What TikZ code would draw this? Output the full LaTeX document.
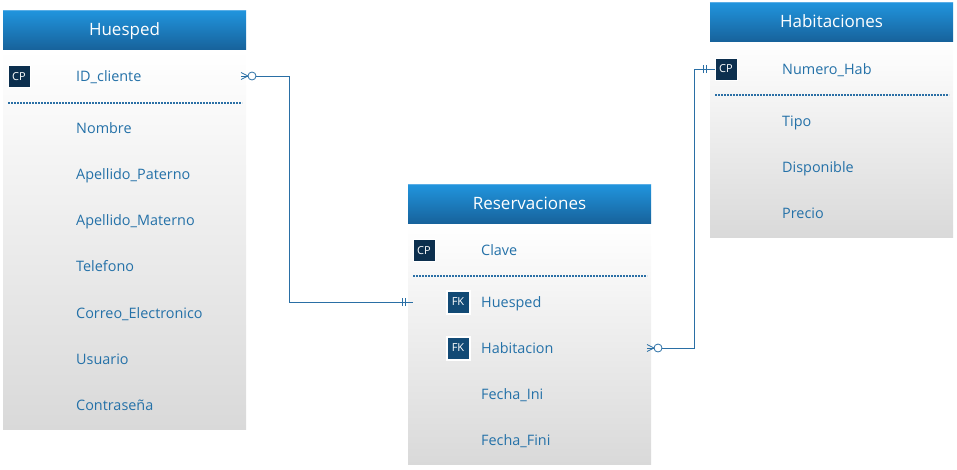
\documentclass[tikz,border=0pt]{standalone}
\usepackage{fontspec}
\setmainfont{Open Sans}
\definecolor{hdtop}{HTML}{2195DE}
\definecolor{hdbot}{HTML}{17629B}
\definecolor{hdedge}{HTML}{5AAEE6}
\definecolor{bdtop}{HTML}{FFFFFF}
\definecolor{bdbot}{HTML}{D9D9D9}
\definecolor{ink}{HTML}{2471A8}
\definecolor{wire}{HTML}{2A6FA5}
\definecolor{cpc}{HTML}{0C2F4E}
\definecolor{fkc}{HTML}{124A75}
\tikzset{
 x=1pt,y=-1pt,
 tablehead/.style={rectangle,minimum width=243pt,minimum height=39.6pt,inner sep=0pt,top color=hdtop,bottom color=hdbot,text=white,text height=12pt,text depth=0pt,font=\fontsize{17}{19}\selectfont},
 tablebody/.style={rectangle,minimum width=243pt,inner sep=0pt,top color=bdtop,bottom color=bdbot},
 field/.style={anchor=base west,inner sep=0pt,text=ink,font=\fontsize{14.4}{17}\selectfont},
 cpkey/.style={rectangle,fill=cpc,draw=white,line width=1pt,minimum size=22pt,inner sep=0pt,text=white,font=\fontsize{11}{13}\selectfont},
 fkkey/.style={cpkey,fill=fkc,line width=2pt,minimum size=23pt},
 sep/.style={draw=wire,dash pattern=on 2pt off 1pt,line width=1.1pt},
 wireline/.style={draw=wire,line width=1pt},
 zeropt/.style={circle,draw=wire,fill=white,line width=0.8pt,minimum size=8pt,inner sep=0pt},
}
\begin{document}
\begin{tikzpicture}
\useasboundingbox (0,0) rectangle (957,469);
% Huesped
\node[tablebody,minimum height=379.6pt] (hb) at (124.5,239.8) {};
\node[tablehead] (hh) at (124.5,29.8) {Huesped};
\draw[hdedge,line width=1pt] (hh.north west) ++(0,0.5) -- ([yshift=-0.5pt]hh.north east);
\node[cpkey] (hk) at (19,76.5) {CP};
\node[field] (h1) at (76,81) {ID\_cliente};
\node[field] (h2) at (76,133) {Nombre};
\node[field] (h3) at (76,179) {Apellido\_Paterno};
\node[field] (h4) at (76,225) {Apellido\_Materno};
\node[field] (h5) at (76,271) {Telefono};
\node[field] (h6) at (76,318) {Correo\_Electronico};
\node[field] (h7) at (76,364) {Usuario};
\node[field] (h8) at (76,410) {Contraseña};
\coordinate (hsl) at (8,103);
\coordinate (hsr) at (242,103);
\draw[sep] (hsl) -- (hsr);
% Reservaciones
\node[tablebody,minimum height=241pt] (rb) at (529.5,344.3) {};
\node[tablehead] (rh) at (529.5,203.8) {Reservaciones};
\draw[hdedge,line width=1pt] (rh.north west) ++(0,0.5) -- ([yshift=-0.5pt]rh.north east);
\node[cpkey] (rk) at (424,250.5) {CP};
\node[field] (r1) at (481,255) {Clave};
\node[fkkey] (rf1) at (458,302) {FK};
\node[field] (r2) at (481,307) {Huesped};
\node[fkkey] (rf2) at (458,348) {FK};
\node[field] (r3) at (481,353) {Habitacion};
\node[field] (r4) at (481,399) {Fecha\_Ini};
\node[field] (r5) at (481,445) {Fecha\_Fini};
\coordinate (rsl) at (413,276);
\coordinate (rsr) at (647,276);
\draw[sep] (rsl) -- (rsr);
% Habitaciones
\node[tablebody,minimum height=195.6pt] (ab) at (831.5,139.8) {};
\node[tablehead] (ah) at (831.5,21.8) {Habitaciones};
\draw[hdedge,line width=1pt] (ah.north west) ++(0,0.5) -- ([yshift=-0.5pt]ah.north east);
\node[cpkey] (ak) at (726,69) {CP};
\node[field] (a1) at (782,74) {Numero\_Hab};
\node[field] (a2) at (782,126) {Tipo};
\node[field] (a3) at (782,172) {Disponible};
\node[field] (a4) at (782,218) {Precio};
\coordinate (asl) at (715,95);
\coordinate (asr) at (949,95);
\draw[sep] (asl) -- (asr);
% Connector Huesped -> Reservaciones
\coordinate (c1s) at (241,76);
\coordinate (c1e) at ([xshift=5pt]rb.west |- rf1);
\draw[wireline] (c1s) -- (289,76) -- (289,302) -- (c1e);
\coordinate (c1a) at ([xshift=-5pt]rb.west |- rf1);
\coordinate (c1b) at ([xshift=-2pt]rb.west |- rf1);
\draw[wireline] ([yshift=-4pt]c1a) -- ([yshift=4pt]c1a);
\draw[wireline] ([yshift=-4pt]c1b) -- ([yshift=4pt]c1b);
\draw[wireline,line width=0.8pt] ([yshift=-3.5pt]c1s) -- ([xshift=7pt]c1s) -- ([yshift=3.5pt]c1s);
\node[zeropt] (z1) at ([xshift=11pt]c1s) {};
% Connector Reservaciones -> Habitaciones
\coordinate (c2s) at (647,348);
\coordinate (c2e) at (ak.west);
\draw[wireline] (c2s) -- (694,348) -- (694,69) -- (c2e);
\coordinate (c2a) at ([xshift=-11pt]ak.west);
\coordinate (c2b) at ([xshift=-8pt]ak.west);
\draw[wireline] ([yshift=-4pt]c2a) -- ([yshift=4pt]c2a);
\draw[wireline] ([yshift=-4pt]c2b) -- ([yshift=4pt]c2b);
\draw[wireline,line width=0.8pt] ([yshift=-3.5pt]c2s) -- ([xshift=7pt]c2s) -- ([yshift=3.5pt]c2s);
\node[zeropt] (z2) at ([xshift=11pt]c2s) {};
\end{tikzpicture}
\end{document}
